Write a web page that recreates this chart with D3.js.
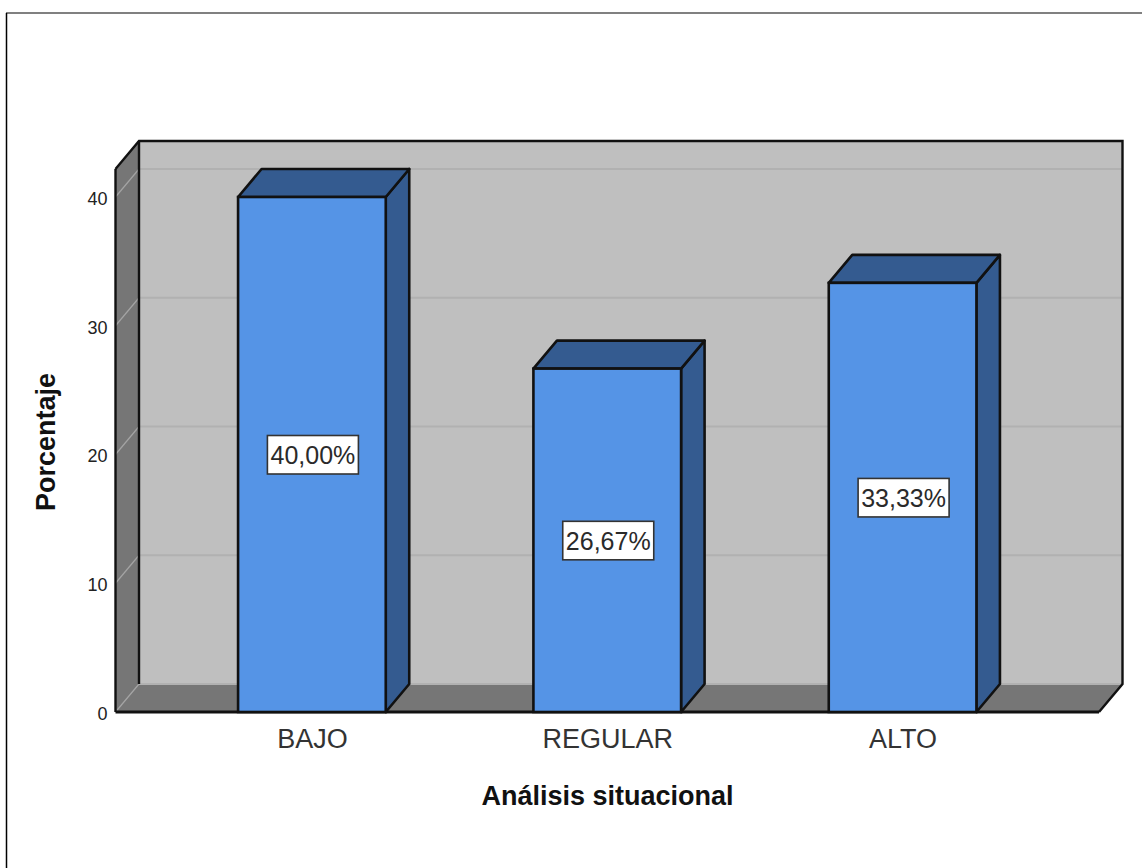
<!DOCTYPE html>
<html><head><meta charset="utf-8">
<script src="https://cdn.jsdelivr.net/npm/d3@7"></script>
<style>
html,body{margin:0;padding:0;background:#fff;overflow:hidden}
svg{display:block;font-family:"Liberation Sans",Arial,sans-serif}
</style></head><body>
<svg id="chart" width="1142" height="868"></svg>
<script>
// Percentage of responses per level
const categories = ["BAJO", "REGULAR", "ALTO"];
const percentages = [40.00, 26.67, 33.33];
const valueLabels = ["40,00%", "26,67%", "33,33%"];
const yTicks = [0, 10, 20, 30, 40];
const xTitle = "Análisis situacional";
const yTitle = "Porcentaje";

const svg = d3.select("#chart");

// Front plane of the pseudo-3D plot and the offset towards the back wall
const front = {left: 115.5, right: 1099, bottom: 712, top: 169};
const depth = {dx: 23.5, dy: -28};

const y = d3.scaleLinear().domain([0, 40]).range([712, 197]);
const x = d3.scaleBand().domain(categories)
  .range([front.left, front.right])
  .paddingInner(0.5).paddingOuter(0.415);

const line = "#111";
const pts = p => p.map(d => d.join(",")).join(" ");

// Outer frame, open on the right and bottom
svg.append("line").attr("x1", 6).attr("x2", 1142).attr("y1", 13).attr("y2", 13)
  .attr("stroke", "#808080").attr("stroke-width", 2);
svg.append("line").attr("x1", 6.5).attr("x2", 6.5).attr("y1", 13).attr("y2", 868)
  .attr("stroke", "#000").attr("stroke-width", 1.5);

const backL = front.left + depth.dx, backR = front.right + depth.dx;
const backT = front.top + depth.dy, backB = front.bottom + depth.dy;

// Back wall
svg.append("rect").attr("x", backL).attr("y", backT)
  .attr("width", backR - backL).attr("height", backB - backT)
  .attr("fill", "#bfbfbf");

// Side wall and floor
svg.append("polygon")
  .attr("points", pts([[front.left, front.top], [backL, backT], [backL, backB], [front.left, front.bottom]]))
  .attr("fill", "#767676");
svg.append("polygon")
  .attr("points", pts([[front.left, front.bottom], [backL, backB], [backR, backB], [front.right, front.bottom]]))
  .attr("fill", "#767676");

// Gridlines running along the side wall and the back wall
const grid = svg.append("g");
grid.selectAll("line.side").data(yTicks).join("line").attr("class", "side")
  .attr("x1", front.left).attr("y1", d => y(d))
  .attr("x2", backL).attr("y2", d => y(d) + depth.dy)
  .attr("stroke", "#a4a4a4").attr("stroke-width", 1.2);
grid.selectAll("line.back").data(yTicks).join("line").attr("class", "back")
  .attr("x1", backL).attr("x2", backR)
  .attr("y1", d => y(d) + depth.dy).attr("y2", d => y(d) + depth.dy)
  .attr("stroke", "#b1b1b1").attr("stroke-width", 2);

// Plot outline
const outline = svg.append("g").attr("fill", "none").attr("stroke", line).attr("stroke-width", 2.4);
outline.append("polyline").attr("points", pts([
  [front.left, front.top], [backL, backT], [backR, backT], [backR, backB], [front.right, front.bottom]
]));
outline.append("line").attr("x1", front.left).attr("x2", front.left).attr("y1", front.top).attr("y2", front.bottom);
outline.append("line").attr("x1", backL).attr("x2", backL).attr("y1", backT).attr("y2", backB);
outline.append("line").attr("x1", front.left).attr("x2", front.right)
  .attr("y1", front.bottom).attr("y2", front.bottom).attr("stroke-width", 3);

// Bars: side face, top face, then the front face
const bars = svg.append("g").selectAll("g").data(categories).join("g");
const bw = x.bandwidth();
const val = i => percentages[i];
bars.append("polygon")
  .attr("points", (d, i) => {
    const r = x(d) + bw, t = y(val(i));
    return pts([[r, t], [r + depth.dx, t + depth.dy], [r + depth.dx, front.bottom + depth.dy], [r, front.bottom]]);
  })
  .attr("fill", "#345b90").attr("stroke", line).attr("stroke-width", 2.6).attr("stroke-linejoin", "round");
bars.append("polygon")
  .attr("points", (d, i) => {
    const l = x(d), t = y(val(i));
    return pts([[l, t], [l + depth.dx, t + depth.dy], [l + bw + depth.dx, t + depth.dy], [l + bw, t]]);
  })
  .attr("fill", "#345b90").attr("stroke", line).attr("stroke-width", 2.6).attr("stroke-linejoin", "round");
bars.append("rect")
  .attr("x", d => x(d)).attr("width", bw)
  .attr("y", (d, i) => y(val(i))).attr("height", (d, i) => y(0) - y(val(i)))
  .attr("fill", "#5594e6").attr("stroke", line).attr("stroke-width", 2.6);

// Value labels centred on each bar
const labels = svg.append("g").selectAll("g").data(categories).join("g")
  .attr("transform", (d, i) => `translate(${x(d) + bw / 2 + 1},${y(val(i) / 2) + 0.5})`);
labels.append("rect").attr("x", -45.5).attr("y", -19.5).attr("width", 91).attr("height", 38.5)
  .attr("fill", "#fff").attr("stroke", "#333").attr("stroke-width", 1.6);
labels.append("text").text((d, i) => valueLabels[i])
  .attr("text-anchor", "middle").attr("y", 9)
  .attr("font-size", 25).attr("fill", "#2a2a2a");

// Axes
const yAxis = svg.append("g").attr("transform", "translate(115.5,1.5)")
  .call(d3.axisLeft(y).tickValues(yTicks).tickSize(0).tickPadding(8));
yAxis.select(".domain").remove();
yAxis.selectAll("text").attr("font-size", 18).attr("font-family", "inherit").attr("fill", "#222");

const xAxis = svg.append("g").attr("transform", "translate(0.5,712)")
  .call(d3.axisBottom(x).tickSize(0).tickPadding(17));
xAxis.select(".domain").remove();
xAxis.selectAll("text").attr("font-size", 27).attr("font-family", "inherit").attr("fill", "#333");

// Axis titles
svg.append("text").text(xTitle).attr("x", 607.5).attr("y", 805)
  .attr("text-anchor", "middle").attr("font-size", 27).attr("font-weight", "bold").attr("fill", "#111");
svg.append("text").text(yTitle)
  .attr("transform", "translate(55,442) rotate(-90)")
  .attr("text-anchor", "middle").attr("font-size", 27).attr("font-weight", "bold").attr("fill", "#111");
</script>
</body></html>
